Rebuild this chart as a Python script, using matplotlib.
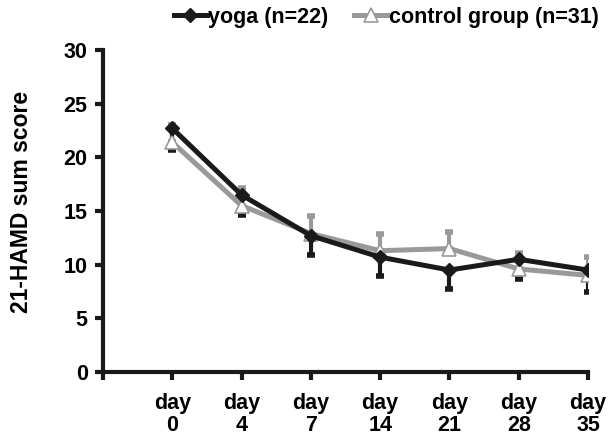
import matplotlib
matplotlib.use("Agg")
import matplotlib.pyplot as plt
import numpy as np

plt.rcParams['font.family'] = ['Liberation Sans', 'DejaVu Sans']
plt.rcParams['font.weight'] = 'bold'

days = ["day\n0", "day\n4", "day\n7", "day\n14", "day\n21", "day\n28", "day\n35"]
yoga = [22.7, 16.5, 12.7, 10.7, 9.5, 10.5, 9.5]
yoga_err = [2.0, 1.9, 1.8, 1.8, 1.8, 1.8, 2.0]
control = [21.4, 15.5, 12.9, 11.3, 11.5, 9.6, 9.0]
control_err = [1.6, 1.6, 1.6, 1.6, 1.5, 1.5, 1.7]

FS = 15.5
fig = plt.figure(figsize=(6.09, 4.38), dpi=100)
ax = fig.add_axes([103/609, 1-372/438, (588-103)/609, (372-50)/438])

x = np.arange(len(days))
black = '#1a1a1a'
gray = '#999999'

ax.errorbar(x, control, yerr=[np.zeros(len(x)), control_err], fmt='none',
            ecolor=gray, elinewidth=3, capsize=3, capthick=4, zorder=2)
ax.errorbar(x, yoga, yerr=[yoga_err, np.zeros(len(x))], fmt='none',
            ecolor=black, elinewidth=3, capsize=3, capthick=4, zorder=2)
l2, = ax.plot(x, control, color=gray, lw=3.6, marker='^', markersize=10,
              markerfacecolor='white', markeredgecolor=gray, markeredgewidth=1.2,
              zorder=3, label='control group (n=31)')
l1, = ax.plot(x, yoga, color=black, lw=3.6, marker='D', markersize=7,
              markerfacecolor=black, markeredgecolor=black, zorder=4,
              label='yoga (n=22)')

ax.set_xlim(-1, 6)
ax.set_ylim(0, 30)
ax.set_xticks(np.arange(-1, 7))
ax.set_xticklabels([''] + days, fontsize=FS, fontweight='bold', linespacing=1.05)
ax.set_yticks(np.arange(0, 31, 5))
ax.set_yticklabels([str(v) for v in range(0, 31, 5)], fontsize=FS, fontweight='bold')
for s in ['top', 'right']:
    ax.spines[s].set_visible(False)
for s in ['left', 'bottom']:
    ax.spines[s].set_linewidth(3)
    ax.spines[s].set_color(black)
ax.tick_params(axis='both', width=3, length=6, color=black, direction='out')
ax.tick_params(axis='x', pad=9)
ax.tick_params(axis='y', pad=5)
ax.set_ylabel('21-HAMD sum score', fontsize=16.5, fontweight='bold')
ax.yaxis.set_label_coords(-0.145, 0.528)

leg = fig.legend(handles=[l1, l2], loc='center', bbox_to_anchor=(386/609, 1-17/438),
                 ncol=2, frameon=False, handlelength=1.55, handletextpad=0.05,
                 columnspacing=1.2, prop={'weight': 'bold', 'size': FS})

fig.savefig('out.png', dpi=100)
